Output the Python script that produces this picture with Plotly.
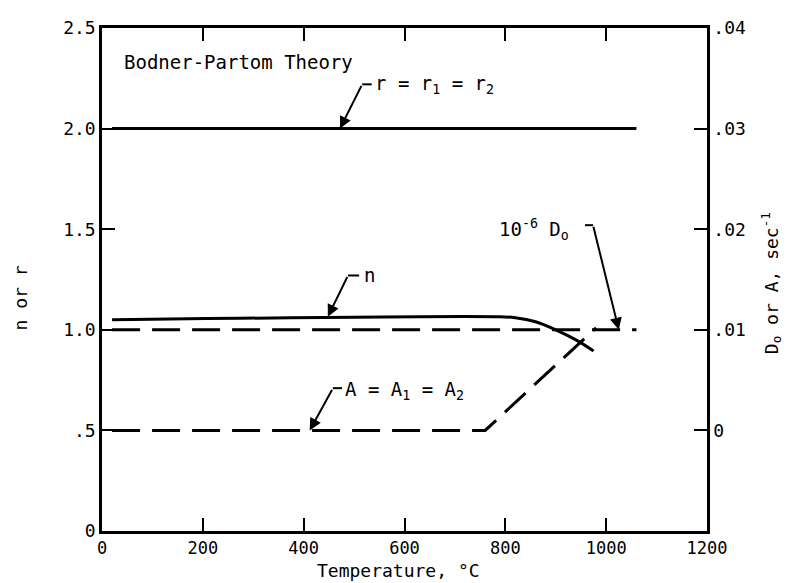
import plotly.graph_objects as go

# ---- data ----
temp_r = [20, 1060]
r_vals = [2.0, 2.0]

temp_n = [20, 780, 820, 860, 900, 940, 975]
n_vals = [1.05, 1.065, 1.06, 1.04, 1.0, 0.95, 0.895]

temp_D0 = [20, 1060]
D0_vals = [0.01, 0.01]          # 10^-6 D0, sec^-1 (right axis)

temp_A = [20, 760, 980]
A_vals = [0.0, 0.0, 0.0102]     # A = A1 = A2, sec^-1 (right axis)

x_ticks = [0, 200, 400, 600, 800, 1000, 1200]
x_text = ["0", "200", "400", "600", "800", "1000", "1200"]
y_ticks = [0, 0.5, 1.0, 1.5, 2.0, 2.5]
y_text = ["0", ".5", "1.0", "1.5", "2.0", "2.5"]
y2_ticks = [0, 0.01, 0.02, 0.03, 0.04]
y2_text = ["0", ".01", ".02", ".03", ".04"]

FONT = "DejaVu Sans Mono"
FS = 19
TFS = 18
LW = 3

fig = go.Figure()
fig.add_trace(go.Scatter(x=temp_r, y=r_vals, mode="lines",
                         line=dict(color="black", width=LW), showlegend=False))
fig.add_trace(go.Scatter(x=temp_n, y=n_vals, mode="lines",
                         line=dict(color="black", width=LW, shape="spline"), showlegend=False))
fig.add_trace(go.Scatter(x=temp_D0, y=D0_vals, mode="lines", yaxis="y2",
                         line=dict(color="black", width=LW, dash="28px,12px"), showlegend=False))
fig.add_trace(go.Scatter(x=temp_A, y=A_vals, mode="lines", yaxis="y2",
                         line=dict(color="black", width=LW, dash="28px,12px"), showlegend=False))

ann = []
shapes = []

def leader(tip, corner, hook_end):
    ann.append(dict(x=tip[0], y=tip[1], ax=corner[0], ay=corner[1], xref="x", yref="y",
                    axref="x", ayref="y", text="", showarrow=True, arrowhead=2,
                    arrowsize=1.2, arrowwidth=2, arrowcolor="black"))
    shapes.append(dict(type="line", xref="x", yref="y", x0=corner[0], y0=corner[1],
                       x1=hook_end[0], y1=hook_end[1], line=dict(color="black", width=2)))

leader((472, 2.0), (516, 2.22), (535, 2.22))
leader((448, 1.065), (488, 1.27), (510, 1.27))
leader((412, 0.5), (458, 0.71), (476, 0.71))
leader((1025, 1.0), (974, 1.52), (958, 1.52))

def label(x, y, t, xa="left"):
    ann.append(dict(x=x, y=y, xref="x", yref="y", text=t, showarrow=False,
                    xanchor=xa, yanchor="middle", font=dict(family=FONT, size=FS, color="black")))

label(40, 2.33, "Bodner-Partom Theory")
label(538, 2.22, "r = r<sub>1</sub> = r<sub>2</sub>")
label(516, 1.27, "n")
label(478, 0.70, "A = A<sub>1</sub> = A<sub>2</sub>")
label(930, 1.50, "10<sup>-6</sup> D<sub>o</sub>", xa="right")

# axis titles
def title(x, y, t, angle=0, size=TFS):
    ann.append(dict(x=x, y=y, xref="paper", yref="paper", text=t, textangle=angle,
                    xanchor="center", yanchor="middle", showarrow=False,
                    font=dict(family=FONT, size=size, color="black")))

title(-0.135, 0.463, "n or r", -90)
title(1.106, 0.493, "D<sub>o</sub> or A, sec<sup>-1</sup>", -90)
title(0.49, -0.079, "Temperature, °C", 0, 18)

axis_common = dict(showgrid=False, zeroline=False, showline=True, linecolor="black",
                   linewidth=2.5, ticks="inside", ticklen=13, tickwidth=2, tickcolor="black",
                   automargin=False,
                   tickfont=dict(family=FONT, size=TFS, color="black"))

# page body has an 8px margin; figure is sized/offset to compensate
fig.update_layout(
    width=786, height=575,
    margin=dict(l=94, r=87, t=20, b=52),
    paper_bgcolor="white", plot_bgcolor="white",
    xaxis=dict(range=[0, 1200], tickvals=x_ticks, ticktext=x_text, mirror="ticks",
               **{**axis_common, "tickfont": dict(family=FONT, size=17, color="black")}),
    yaxis=dict(range=[0, 2.5], tickvals=y_ticks, ticktext=y_text, **axis_common),
    yaxis2=dict(range=[-0.01, 0.04], tickvals=y2_ticks, ticktext=y2_text, overlaying="y",
                side="right", **axis_common),
    annotations=ann, shapes=shapes,
)

fig.write_html("out.html")
